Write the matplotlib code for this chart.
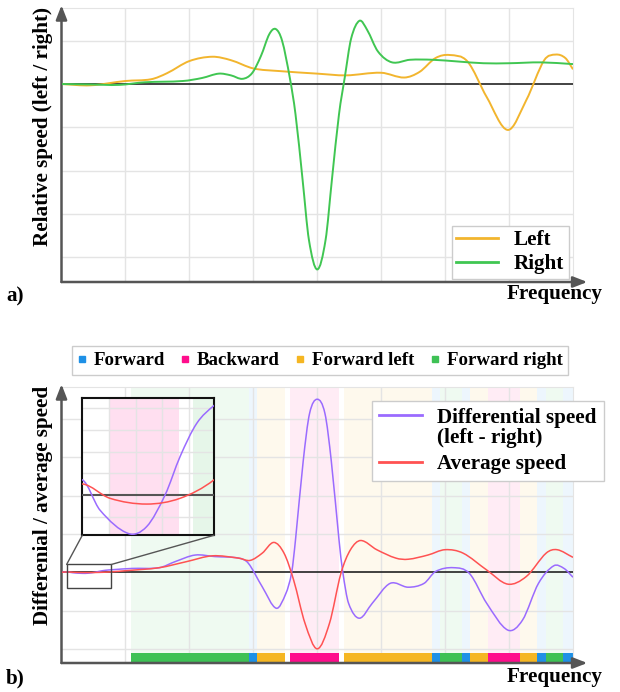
import numpy as np
import matplotlib
matplotlib.use("Agg")
import matplotlib.pyplot as plt
from matplotlib.path import Path
from matplotlib.patches import PathPatch, Rectangle, ConnectionPatch
from matplotlib.lines import Line2D
from matplotlib.legend_handler import HandlerLine2D

plt.rcParams['font.family'] = ['Liberation Serif', 'DejaVu Serif']
plt.rcParams['font.weight'] = 'bold'

# ---- data ----
left_x = [0, 0.45, 1.0, 1.4, 1.65, 2.0, 2.36, 2.65, 3.0, 3.4, 4.0, 4.45, 5.0, 5.36, 5.6, 5.85,
          6.07, 6.35, 6.65, 6.98, 7.27, 7.55, 7.73, 7.88, 8.0]
left_y = [0, -0.03, 0.07, 0.11, 0.25, 0.53, 0.63, 0.55, 0.36, 0.3, 0.24, 0.2, 0.26, 0.15, 0.28, 0.6,
          0.67, 0.52, -0.3, -1.06, -0.37, 0.55, 0.68, 0.6, 0.34]

right_x = [0, 0.45, 0.9, 1.3, 1.9, 2.2, 2.46, 2.65, 2.83, 2.98, 3.12, 3.25, 3.35, 3.45, 3.57, 3.66,
           3.77, 3.87, 4.0, 4.13, 4.23, 4.34, 4.43, 4.53, 4.66, 4.78, 4.95, 5.17, 5.45, 5.8, 6.2,
           6.6, 7.0, 7.5, 8.0]
right_y = [0, -0.01, -0.02, 0.04, 0.07, 0.14, 0.24, 0.2, 0.12, 0.25, 0.65, 1.15, 1.27, 1.0, 0.15, -0.7,
           -2.2, -3.6, -4.28, -3.6, -2.2, -0.7, 0.15, 1.05, 1.46, 1.25, 0.75, 0.5, 0.56, 0.56, 0.52,
           0.48, 0.48, 0.5, 0.46]

diff_x = [0, 0.08, 0.174, 0.325, 0.422, 0.52, 0.6, 0.688, 0.78, 1.1, 1.53, 1.78, 2.09, 2.4, 2.77,
          2.92, 3.14, 3.36, 3.51, 3.6, 3.66, 3.78, 3.88, 4.0, 4.12, 4.22, 4.34, 4.4, 4.49, 4.66,
          4.86, 5.14, 5.42, 5.67, 5.85, 6.13, 6.38, 6.65, 6.98, 7.21, 7.46, 7.7, 7.86, 8.0]
diff_y = [0, 0.011, -0.011, -0.028, -0.023, 0.0, 0.028, 0.052, 0.065, 0.1, 0.12, 0.28, 0.45, 0.41, 0.37,
          0.24, -0.38, -0.94, -0.55, 0.0, 0.85, 2.9, 4.15, 4.52, 4.15, 2.9, 0.85, 0.0, -0.81, -1.2,
          -0.81, -0.29, -0.39, -0.29, 0.02, 0.12, -0.03, -0.81, -1.51, -1.25, -0.29, 0.17, 0.1, -0.13]

avg_x = [0, 0.08, 0.227, 0.422, 0.6, 0.78, 1.0, 1.53, 1.96, 2.36, 2.77, 2.95, 3.14, 3.32, 3.48, 3.63,
         3.81, 4.0, 4.19, 4.37, 4.52, 4.68, 4.93, 5.23, 5.42, 5.73, 6.0, 6.28, 6.65, 6.98, 7.27,
         7.58, 7.75, 8.0]
avg_y = [0, 0.008, -0.0024, -0.0066, -0.0024, 0.011, 0.04, 0.12, 0.28, 0.43, 0.37, 0.31, 0.5, 0.78, 0.5, -0.2,
         -1.34, -2.0, -1.34, -0.03, 0.59, 0.83, 0.59, 0.37, 0.34, 0.45, 0.59, 0.5, 0.06, -0.31, -0.11,
         0.5, 0.59, 0.39]

seg_start = [1.08, 2.94, 3.06, 3.58, 4.42, 5.80, 5.92, 6.27, 6.39, 6.67, 7.17, 7.44, 7.58, 7.84]
seg_end = [2.94, 3.06, 3.5, 4.34, 5.80, 5.92, 6.27, 6.39, 6.67, 7.17, 7.44, 7.58, 7.84, 8.0]
seg_kind = ['Forward right', 'Forward', 'Forward left', 'Backward', 'Forward left', 'Forward',
            'Forward right', 'Forward', 'Forward left', 'Backward', 'Forward left', 'Forward',
            'Forward right', 'Forward']

inset_band_start = [0.228, 0.67]
inset_band_end = [0.596, 0.78]
inset_band_kind = ['Backward', 'Forward right']

kinds = ['Forward', 'Backward', 'Forward left', 'Forward right']
kind_colors = {'Forward': '#1e90e6', 'Backward': '#ff0d8c',
               'Forward left': '#f5b622', 'Forward right': '#3ec155'}

c_left, c_right = '#f2b52e', '#40c652'
c_diff, c_avg = '#9a6bff', '#ff5252'
axis_col = '#555555'
grid_col = '#e4e4e4'


def smooth_path(x, y):
    x = np.asarray(x, float)
    y = np.asarray(y, float)
    m = np.empty(len(x))
    m[1:-1] = (y[2:] - y[:-2]) / (x[2:] - x[:-2])
    m[0] = (y[1] - y[0]) / (x[1] - x[0])
    m[-1] = (y[-1] - y[-2]) / (x[-1] - x[-2])
    verts = [(x[0], y[0])]
    codes = [Path.MOVETO]
    for i in range(len(x) - 1):
        h = x[i + 1] - x[i]
        verts += [(x[i] + h / 3, y[i] + m[i] * h / 3),
                  (x[i + 1] - h / 3, y[i + 1] - m[i + 1] * h / 3),
                  (x[i + 1], y[i + 1])]
        codes += [Path.CURVE4] * 3
    return Path(verts, codes)


def curve(ax, x, y, color, lw=1.3, z=4):
    ax.add_patch(PathPatch(smooth_path(x, y), fill=False, ec=color, lw=lw, zorder=z))


class FirstLineHandler(HandlerLine2D):
    # puts the legend line next to the first line of a two-line label
    def __init__(self, shift, **kw):
        super().__init__(**kw)
        self.shift = shift

    def create_artists(self, legend, orig_handle, xdescent, ydescent, width, height,
                       fontsize, trans):
        arts = super().create_artists(legend, orig_handle, xdescent, ydescent, width,
                                      height, fontsize, trans)
        for a in arts:
            a.set_ydata(np.asarray(a.get_ydata()) + self.shift)
        return arts


def style(ax, ylim, yticks):
    ax.set_xlim(0, 8)
    ax.set_ylim(*ylim)
    ax.set_xticks(range(1, 8))
    ax.set_yticks(yticks)
    ax.tick_params(length=0, labelbottom=False, labelleft=False)
    ax.grid(True, color=grid_col, lw=1)
    ax.set_axisbelow(True)
    for s in ['left', 'bottom']:
        ax.spines[s].set_visible(False)
    for s in ['top', 'right']:
        ax.spines[s].set_color(grid_col)
    ax.axhline(0, color='#222222', lw=1.2, zorder=3)
    arrow = dict(arrowstyle='-|>,head_length=0.85,head_width=0.33', color=axis_col,
                 lw=1.8, shrinkA=0, shrinkB=0, mutation_scale=10)
    ax.annotate('', xy=(1.028, 0), xytext=(0, 0), xycoords='axes fraction',
                arrowprops=arrow, annotation_clip=False)
    ax.annotate('', xy=(0, 1.01), xytext=(0, 0), xycoords='axes fraction',
                arrowprops=arrow, annotation_clip=False)


fig = plt.figure(figsize=(6.2, 6.92), dpi=100)
W, H = 620, 692

# ---- panel a ----
ax1 = fig.add_axes([61.5 / W, 1 - 282 / H, 511.5 / W, 274 / H])
style(ax1, (-4.57, 1.755), [-4, -3, -2, -1, 1])
curve(ax1, left_x, left_y, c_left, lw=1.4)
curve(ax1, right_x, right_y, c_right, lw=1.4)
h1 = [Line2D([], [], color=c_left, lw=2), Line2D([], [], color=c_right, lw=2)]
leg1 = fig.legend(h1, ['Left', 'Right'], loc='lower right',
                  bbox_to_anchor=(568.5 / W, 1 - 278.5 / H), borderaxespad=0,
                  prop=dict(size=15.2, weight='bold'), fancybox=False, edgecolor='#cccccc',
                  framealpha=1, handlelength=2.0, handletextpad=0.75, labelspacing=0.2,
                  borderpad=0.2)
leg1.get_frame().set_linewidth(1)

# ---- panel b ----
ax2 = fig.add_axes([61.5 / W, 1 - 663 / H, 511.5 / W, 276 / H])
ylo, yhi = -2.37, 4.84
style(ax2, (ylo, yhi), [-2, -1, 1, 2, 3, 4])
strip_lo, strip_hi = -2.34, -2.10
for s, e, k in zip(seg_start, seg_end, seg_kind):
    ax2.axvspan(s, e, ymin=(strip_hi - ylo) / (yhi - ylo), ymax=1,
                color=kind_colors[k], alpha=0.08, lw=0, zorder=0.2)
ax2.bar(seg_start, strip_hi - strip_lo, width=np.subtract(seg_end, seg_start),
        bottom=strip_lo, align='edge',
        color=[kind_colors[k] for k in seg_kind], lw=0, zorder=2)
curve(ax2, diff_x, diff_y, c_diff, lw=1.1)
curve(ax2, avg_x, avg_y, c_avg, lw=1.1)
ax2.add_patch(Rectangle((0.08, -0.42), 0.70, 0.624, fill=False, ec='#444444', lw=1, zorder=5))

h2 = [Line2D([], [], color=c_diff, lw=2), Line2D([], [], color=c_avg, lw=2)]
leg2 = fig.legend(h2, ['Differential speed\n(left - right)', 'Average speed'], loc='upper left',
                  bbox_to_anchor=(372 / W, 1 - 401 / H), borderaxespad=0,
                  prop=dict(size=15.2, weight='bold'), fancybox=False, edgecolor='#cccccc',
                  framealpha=1, handlelength=2.0, handletextpad=0.75, labelspacing=0.3,
                  borderpad=0.35, handler_map={h2[0]: FirstLineHandler(9.4)})
for t in leg2.get_texts():
    t.set_linespacing(0.95)

h3 = [Line2D([], [], ls='', marker='s', markersize=4, color=kind_colors[k]) for k in kinds]
leg3 = fig.legend(h3, kinds, loc='center', ncol=4, bbox_to_anchor=(320 / W, 1 - 360.5 / H),
                  prop=dict(size=13.6, weight='bold'), fancybox=False, edgecolor='#cccccc',
                  framealpha=1, handlelength=0.45, handletextpad=0.4, columnspacing=0.85,
                  borderpad=0.3)

# ---- inset ----
axin = fig.add_axes([82.3 / W, 1 - 535.3 / H, 131.7 / W, 137.6 / H])
axin.set_xlim(0.08, 0.78)
axin.set_ylim(-0.0293, 0.0707)
axin.set_xticks([0.224, 0.364, 0.505, 0.645])
axin.set_yticks([-0.0158, 0.0158, 0.0315, 0.0473, 0.0631])
axin.tick_params(length=0, labelbottom=False, labelleft=False)
axin.grid(True, color=grid_col, lw=1)
axin.set_axisbelow(True)
for sp in axin.spines.values():
    sp.set_linewidth(1.5)
    sp.set_color('#111111')
for s, e, k in zip(inset_band_start, inset_band_end, inset_band_kind):
    axin.axvspan(s, e, color=kind_colors[k], alpha=0.13, lw=0, zorder=0.2)
axin.axhline(0, color=axis_col, lw=1.5, zorder=3)
curve(axin, diff_x, diff_y, c_diff, lw=1.1)
curve(axin, avg_x, avg_y, c_avg, lw=1.1)

for xa, xb in [((0.08, 0.204), (0, 0)), ((0.78, 0.204), (1, 0))]:
    fig.add_artist(ConnectionPatch(xyA=xa, coordsA=ax2.transData, xyB=xb,
                                   coordsB=axin.transAxes, color=axis_col, lw=1))

# ---- labels ----
lab = dict(fontsize=15.2, fontweight='bold')
fig.text(43 / W, 1 - 126 / H, 'Relative speed (left / right)', rotation=90,
         ha='center', va='center', **lab)
fig.text(43 / W, 1 - 505 / H, 'Differenial / average speed', rotation=90,
         ha='center', va='center', **lab)
fig.text(603 / W, 1 - 294 / H, 'Frequency', ha='right', va='center', **lab)
fig.text(603 / W, 1 - 677 / H, 'Frequency', ha='right', va='center', **lab)
fig.text(6 / W, 1 - 296 / H, 'a)', ha='left', va='center', **lab)
fig.text(6 / W, 1 - 678 / H, 'b)', ha='left', va='center', **lab)

fig.savefig('out.png', dpi=100)
